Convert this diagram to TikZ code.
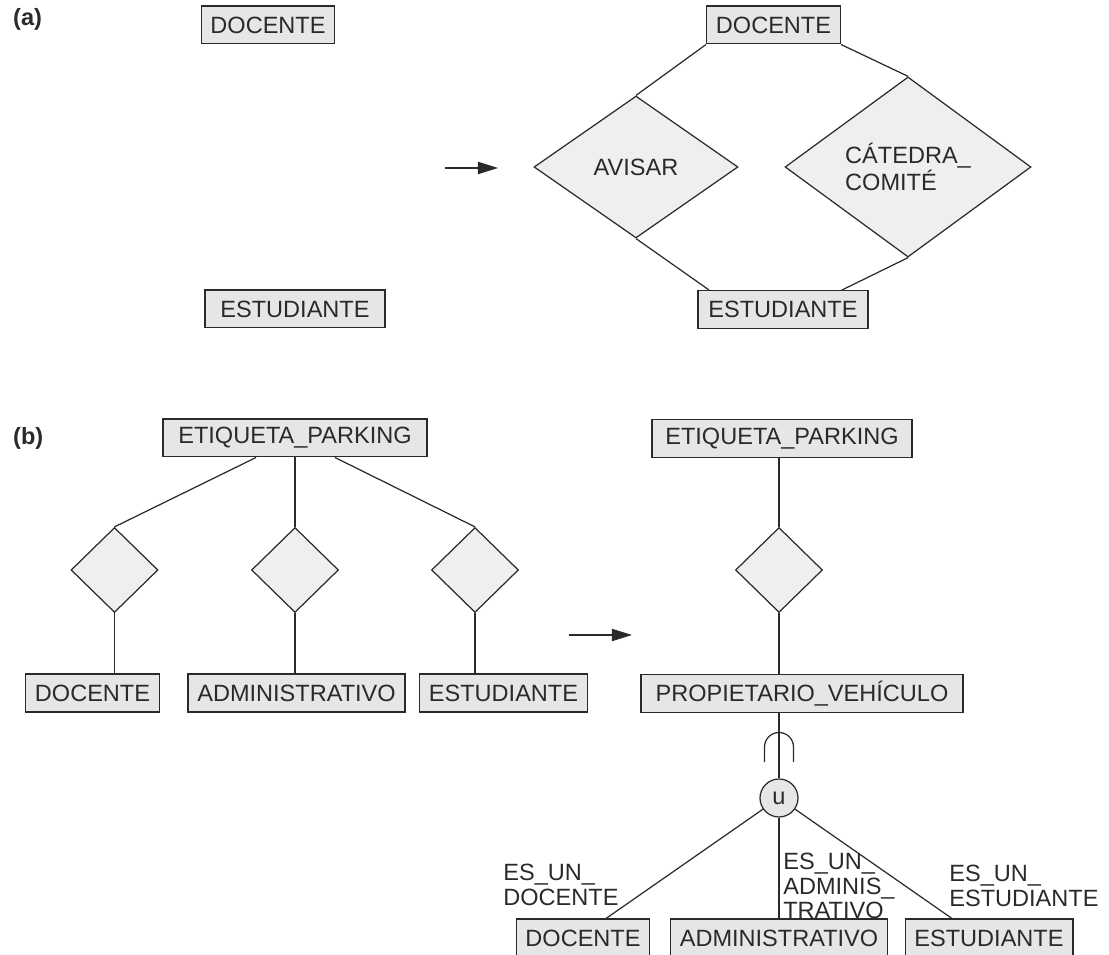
\documentclass[tikz,border=0pt]{standalone}
\usepackage{fontspec}
\setmainfont{Liberation Sans}
\usetikzlibrary{arrows.meta,shapes.geometric,calc}
\definecolor{boxfill}{HTML}{E6E6E6}
\definecolor{relfill}{HTML}{EFEFEF}
\definecolor{ink}{HTML}{2A2A2A}

\begin{document}
\begin{tikzpicture}[x=0.02cm,y=-0.02cm,every node/.style={font=\fontsize{13.4}{13.8}\selectfont,text=ink}]
    \tikzstyle{ent}=[draw=ink,fill=boxfill,line width=0.7pt,inner xsep=5.3pt,minimum height=21.5pt];
    \tikzstyle{rel}=[diamond,draw=ink,fill=relfill,line width=0.7pt,inner sep=1pt];
    \tikzstyle{small}=[rel,minimum width=1.74cm,minimum height=1.70cm];
    \tikzstyle{conn}=[draw=ink,line width=0.7pt];
    \tikzstyle{lbl}=[anchor=north west,inner sep=0pt,align=left];
    \useasboundingbox (0,0) rectangle (1109,955);

    % (a)
    \node[anchor=west] (la) at (7,19) {\bfseries (a)};
    \node[ent] (doc0) at (268,25)   {DOCENTE};
    \node[ent,minimum width=3.6cm] (est0) at (295,309) {ESTUDIANTE};
    \coordinate (a1) at (445,168);
    \coordinate (a2) at (498,168);
    \draw[conn,-{Triangle[length=11.5pt,width=7pt]}] (a1) -- (a2);

    \node[ent] (doc1) at (773.5,25) {DOCENTE};
    \node[ent,minimum width=3.4cm] (est1) at (783,309.5) {ESTUDIANTE};
    \node[rel,minimum width=4.08cm,minimum height=2.84cm] (avi) at (636,167) {AVISAR};
    \node[rel,minimum width=4.92cm,minimum height=2.84cm,align=left] (cat) at (908,167) {CÁTEDRA\_\\COMITÉ};

    \draw[conn] (doc1.south west) -- (avi.north);
    \draw[conn] (doc1.south east) -- (cat.north);
    \draw[conn] (avi.south) -- ([xshift=-1.48cm]est1.north);
    \draw[conn] (cat.south) -- ([xshift=1.18cm]est1.north);

    % (b)
    \node[anchor=west] (lb) at (7,438) {\bfseries (b)};
    \node[ent,minimum width=5.28cm] (ep0) at (295,438) {ETIQUETA\_PARKING};
    \node[small] (r1) at (114.5,570) {};
    \node[small] (r2) at (295,570) {};
    \node[small] (r3) at (475,570) {};
    \node[ent] (doc2) at (92.5,693) {DOCENTE};
    \node[ent] (adm2) at (296.5,693) {ADMINISTRATIVO};
    \node[ent] (est2) at (503.5,693) {ESTUDIANTE};

    \draw[conn] ([xshift=-0.78cm]ep0.south) -- (r1.north);
    \draw[conn] (r2.north |- ep0.south) -- (r2.north);
    \draw[conn] ([xshift=0.80cm]ep0.south) -- (r3.north);
    \draw[conn] (r1.south) -- (r1.south |- doc2.north);
    \draw[conn] (r2.south) -- (r2.south |- adm2.north);
    \draw[conn] (r3.south) -- (r3.south |- est2.north);

    \coordinate (b1) at (569,635);
    \coordinate (b2) at (632,635);
    \draw[conn,-{Triangle[length=11.5pt,width=7pt]}] (b1) -- (b2);

    \node[ent,minimum width=5.2cm] (ep1) at (782,438.5) {ETIQUETA\_PARKING};
    \node[small] (r4) at (779,570) {};
    \node[ent,minimum width=6.44cm] (pv) at (802,693.5) {PROPIETARIO\_VEHÍCULO};
    \node[circle,draw=ink,fill=boxfill,line width=0.7pt,minimum size=0.76cm,inner sep=0pt] (u) at (779,798) {u};
    \node[ent] (doc3) at (583,938) {DOCENTE};
    \node[ent] (adm3) at (779,938) {ADMINISTRATIVO};
    \node[ent] (est3) at (989,938) {ESTUDIANTE};

    \draw[conn] (r4.north |- ep1.south) -- (r4.north);
    \draw[conn] (r4.south) -- (r4.south |- pv.north);
    \draw[conn] (u.north |- pv.south) -- (u.north);
    \draw[conn] (764.5,762) -- (764.5,747) arc[start angle=180,end angle=0,radius=0.29cm] -- (793.5,762);
    \draw[conn] (u) -- ([xshift=0.46cm]doc3.north);
    \draw[conn] (u.south) -- (u.south |- adm3.north);
    \draw[conn] (u) -- ([xshift=-0.74cm]est3.north);

    \node[lbl] (l1) at (503,864) {ES\_UN\_\\DOCENTE};
    \node[lbl] (l2) at (783,853) {ES\_UN\_\\ADMINIS\_\\TRATIVO};
    \node[lbl] (l3) at (949,865) {ES\_UN\_\\ESTUDIANTE};
\end{tikzpicture}
\end{document}
